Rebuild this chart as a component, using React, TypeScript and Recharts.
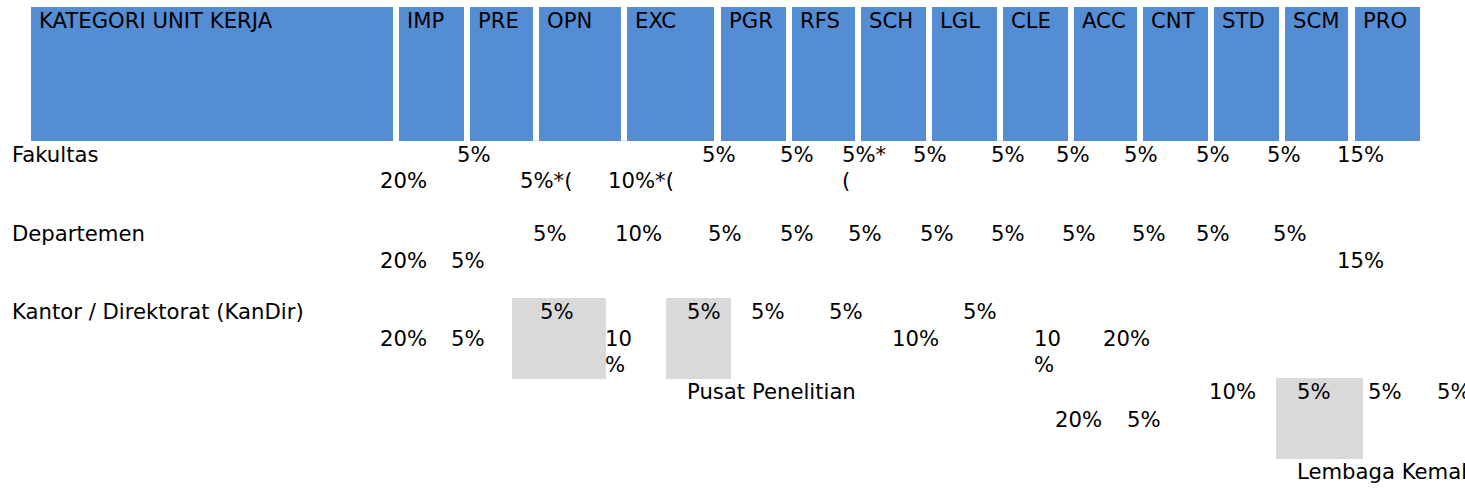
import { ScatterChart, Scatter, XAxis, YAxis, ReferenceArea } from 'recharts';

// header columns of the table
const headerLabels = ['KATEGORI UNIT KERJA', 'IMP', 'PRE', 'OPN', 'EXC', 'PGR', 'RFS', 'SCH', 'LGL', 'CLE', 'ACC', 'CNT', 'STD', 'SCM', 'PRO'];
const headerStart = [31, 399, 470, 539, 627, 721, 792, 861, 932, 1003, 1074, 1143, 1214, 1285, 1355];
const headerEnd = [393, 464, 533, 621, 714, 786, 855, 926, 997, 1068, 1137, 1208, 1279, 1348, 1420];
const headerTop = 7;
const headerBottom = 141;
const headerBaseline = 28;

// body text, one list per text line
const lineBaselines = [162, 188, 241, 268, 319, 346, 372, 399, 427, 479];
const lineTexts = [
  ['Fakultas', '5%', '5%', '5%', '5%*', '5%', '5%', '5%', '5%', '5%', '5%', '15%'],
  ['20%', '5%*(', '10%*(', '('],
  ['Departemen', '5%', '10%', '5%', '5%', '5%', '5%', '5%', '5%', '5%', '5%', '5%'],
  ['20%', '5%', '15%'],
  ['Kantor / Direktorat (KanDir)', '5%', '5%', '5%', '5%', '5%'],
  ['20%', '5%', '10', '10%', '10', '20%'],
  ['%', '%'],
  ['Pusat Penelitian', '10%', '5%', '5%', '5%'],
  ['20%', '5%'],
  ['Lembaga Kemahasiswaan'],
];
const lineXs = [
  [12, 457, 702, 780, 842, 913, 991, 1056, 1124, 1196, 1267, 1337],
  [380, 520, 608, 842],
  [12, 533, 615, 708, 780, 848, 920, 991, 1062, 1132, 1196, 1273],
  [380, 451, 1337],
  [12, 540, 687, 751, 829, 963],
  [380, 451, 605, 892, 1034, 1103],
  [605, 1034],
  [687, 1209, 1297, 1368, 1437],
  [1055, 1127],
  [1297],
];

// shaded cells
const shadeX1 = [512, 666, 1276];
const shadeX2 = [606, 731, 1363];
const shadeY1 = [298, 298, 378];
const shadeY2 = [379, 379, 459];

const W = 1465;
const H = 489;
const FONT = '"DejaVu Sans", Verdana, sans-serif';

const headerPoints = headerLabels.map((label, i) => ({ x: headerStart[i] + 8, y: headerBaseline, label }));
const bodyPoints = lineTexts.flatMap((texts, li) =>
  texts.map((label, i) => ({ x: lineXs[li][i], y: lineBaselines[li], label }))
);

const renderText = (props: any) => {
  const { cx, cy, payload } = props;
  return (
    <text x={cx} y={cy} fontSize={21.2} fontFamily={FONT} fill="#000">
      {payload.label}
    </text>
  );
};

export default function App() {
  return (
    <div style={{ position: 'absolute', left: 0, top: 0, width: W, height: H, background: '#fff' }}>
      <ScatterChart width={W} height={H} margin={{ top: 0, right: 0, bottom: 0, left: 0 }}>
        <XAxis dataKey="x" type="number" domain={[0, W]} hide allowDataOverflow />
        <YAxis dataKey="y" type="number" domain={[0, H]} reversed hide allowDataOverflow />
        {headerLabels.map((h, i) => (
          <ReferenceArea
            key={h}
            x1={headerStart[i]}
            x2={headerEnd[i]}
            y1={headerTop}
            y2={headerBottom}
            fill="#548DD4"
            fillOpacity={1}
            stroke="none"
          />
        ))}
        {shadeX1.map((x, i) => (
          <ReferenceArea
            key={'s' + i}
            x1={x}
            x2={shadeX2[i]}
            y1={shadeY1[i]}
            y2={shadeY2[i]}
            fill="#D9D9D9"
            fillOpacity={1}
            stroke="none"
          />
        ))}
        <Scatter data={headerPoints} shape={renderText} isAnimationActive={false} />
        <Scatter data={bodyPoints} shape={renderText} isAnimationActive={false} />
      </ScatterChart>
    </div>
  );
}
